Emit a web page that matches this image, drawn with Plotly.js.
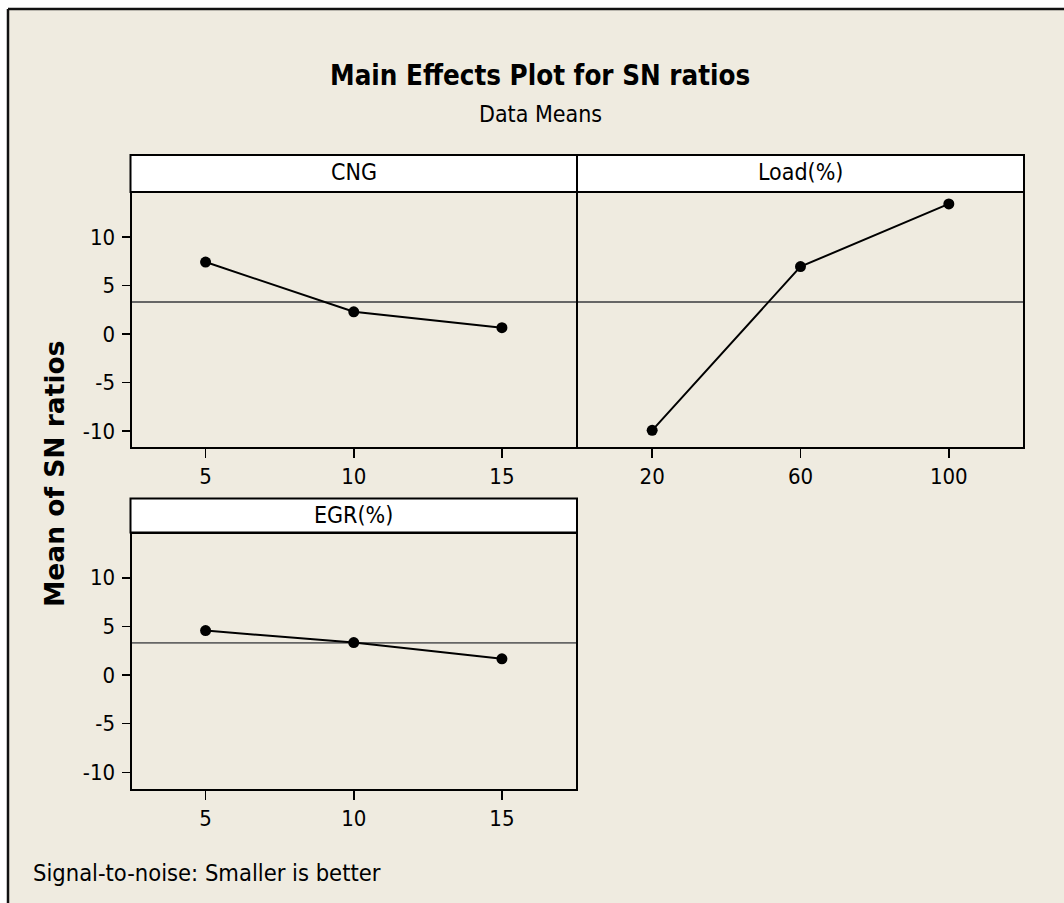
<!DOCTYPE html>
<html>
<head>
<meta charset="utf-8">
<script src="https://cdn.plot.ly/plotly-3.0.1.min.js"></script>
<style>
  html, body { margin: 0; padding: 0; background: #ffffff; }
  #chart { width: 1064px; height: 903px; }
</style>
</head>
<body>
<div id="chart"></div>
<script>
// ---- Data ----
const cngLevels  = [5, 10, 15];
const cngMeans   = [7.42, 2.29, 0.65];
const loadLevels = [20, 60, 100];
const loadMeans  = [-9.95, 6.95, 13.42];
const egrLevels  = [5, 10, 15];
const egrMeans   = [4.57, 3.34, 1.66];
const grandMean  = 3.3;
const panelTitles = ['CNG', 'Load(%)', 'EGR(%)'];
const yTickVals  = [-10, -5, 0, 5, 10];
const yTickText  = ['-10', '-5', '0', '5', '10'];
const cngTicks   = [5, 10, 15];
const loadTicks  = [20, 60, 100];
const egrTicks   = [5, 10, 15];
const chartTitle = 'Main Effects Plot for SN ratios';
const chartSubtitle = 'Data Means';
const yTitle = 'Mean of SN ratios';
const footer = 'Signal-to-noise: Smaller is better';

// ---- Layout helpers (pixel -> paper) ----
const W = 1064, H = 903;
const px = v => v / W;
const py = v => 1 - v / H;

const L1 = 131.5, R1a = 576, R1b = 578, R2 = 1023;
const topHeadTop = 155, topPlotTop = 193, topPlotBot = 447;
const botHeadTop = 498.5, botPlotTop = 533.5, botPlotBot = 788.5;

const FONT = '"DejaVu Sans Condensed", "DejaVu Sans", sans-serif';
const BG = '#efebe0';
const yRange = [-11.67, 14.55];

const markerStyle = { color: '#000000', size: 11 };
const lineStyle = { color: '#000000', width: 2 };

const traces = [
  { x: cngLevels, y: cngMeans, xaxis: 'x', yaxis: 'y', mode: 'lines+markers',
    marker: markerStyle, line: lineStyle, hoverinfo: 'skip' },
  { x: loadLevels, y: loadMeans, xaxis: 'x2', yaxis: 'y2', mode: 'lines+markers',
    marker: markerStyle, line: lineStyle, hoverinfo: 'skip' },
  { x: egrLevels, y: egrMeans, xaxis: 'x3', yaxis: 'y3', mode: 'lines+markers',
    marker: markerStyle, line: lineStyle, hoverinfo: 'skip' }
];

const tickFont = { family: FONT, size: 22, color: '#000000' };
const baseX = {
  showgrid: false, zeroline: false, showline: true, mirror: true,
  linecolor: '#000000', linewidth: 2,
  ticks: 'outside', ticklen: 9, tickwidth: 1.5, tickcolor: '#000000',
  tickfont: tickFont, fixedrange: true
};
const baseY = Object.assign({}, baseX, { range: yRange, tickvals: yTickVals, ticktext: yTickText, ticklen: 8, ticklabelstandoff: 2 });

const layout = {
  width: W, height: H,
  margin: { l: 0, r: 0, t: 0, b: 0, pad: 0 },
  paper_bgcolor: '#ffffff',
  plot_bgcolor: '#ffffff',
  showlegend: false,
  xaxis: Object.assign({}, baseX, { domain: [px(L1), px(R1a)], anchor: 'y', range: [2.5, 17.5], tickvals: cngTicks }),
  yaxis: Object.assign({}, baseY, { domain: [py(topPlotBot), py(topPlotTop)], anchor: 'x' }),
  xaxis2: Object.assign({}, baseX, { domain: [px(R1b), px(R2)], anchor: 'y2', range: [0, 120], tickvals: loadTicks }),
  yaxis2: Object.assign({}, baseY, { domain: [py(topPlotBot), py(topPlotTop)], anchor: 'x2', ticks: '', showticklabels: false }),
  xaxis3: Object.assign({}, baseX, { domain: [px(L1), px(R1a)], anchor: 'y3', range: [2.5, 17.5], tickvals: egrTicks }),
  yaxis3: Object.assign({}, baseY, { domain: [py(botPlotBot), py(botPlotTop)], anchor: 'x3' }),
  shapes: [
    // beige frame background
    { type: 'rect', xref: 'paper', yref: 'paper', x0: px(8), x1: 1, y0: 0, y1: py(9),
      fillcolor: BG, line: { width: 0 }, layer: 'below' },
    { type: 'line', xref: 'paper', yref: 'paper', x0: px(8), x1: 1, y0: py(9), y1: py(9),
      line: { color: '#111111', width: 2.5 }, layer: 'below' },
    { type: 'line', xref: 'paper', yref: 'paper', x0: px(8), x1: px(8), y0: 0, y1: py(9),
      line: { color: '#111111', width: 2.5 }, layer: 'below' },
    // header boxes
    { type: 'rect', xref: 'paper', yref: 'paper', x0: px(L1 - 1), x1: px(R1a + 1), y0: py(topPlotTop - 1), y1: py(topHeadTop),
      fillcolor: '#ffffff', line: { color: '#000000', width: 2 }, layer: 'below' },
    { type: 'rect', xref: 'paper', yref: 'paper', x0: px(R1b - 1), x1: px(R2 + 1), y0: py(topPlotTop - 1), y1: py(topHeadTop),
      fillcolor: '#ffffff', line: { color: '#000000', width: 2 }, layer: 'below' },
    { type: 'rect', xref: 'paper', yref: 'paper', x0: px(L1 - 1), x1: px(R1a + 1), y0: py(botPlotTop - 1), y1: py(botHeadTop),
      fillcolor: '#ffffff', line: { color: '#000000', width: 2 }, layer: 'below' },
    // grand mean reference lines
    { type: 'line', xref: 'x domain', yref: 'y', x0: 0, x1: 1, y0: grandMean, y1: grandMean,
      line: { color: '#666666', width: 1.8 }, layer: 'below' },
    { type: 'line', xref: 'x2 domain', yref: 'y2', x0: 0, x1: 1, y0: grandMean, y1: grandMean,
      line: { color: '#666666', width: 1.8 }, layer: 'below' },
    { type: 'line', xref: 'x3 domain', yref: 'y3', x0: 0, x1: 1, y0: grandMean, y1: grandMean,
      line: { color: '#666666', width: 1.8 }, layer: 'below' }
  ],
  annotations: [
    { text: '<b>' + chartTitle + '</b>', xref: 'paper', yref: 'paper', x: px(540), y: py(74.5),
      xanchor: 'center', yanchor: 'middle', showarrow: false,
      font: { family: FONT, size: 27.5, color: '#000000' } },
    { text: chartSubtitle, xref: 'paper', yref: 'paper', x: px(540), y: py(113.5),
      xanchor: 'center', yanchor: 'middle', showarrow: false,
      font: { family: FONT, size: 23, color: '#000000' } },
    { text: panelTitles[0], xref: 'paper', yref: 'paper', x: px((L1 + R1a) / 2), y: py(172.5),
      xanchor: 'center', yanchor: 'middle', showarrow: false,
      font: { family: FONT, size: 23, color: '#000000' } },
    { text: panelTitles[1], xref: 'paper', yref: 'paper', x: px((R1b + R2) / 2), y: py(172.5),
      xanchor: 'center', yanchor: 'middle', showarrow: false,
      font: { family: FONT, size: 23, color: '#000000' } },
    { text: panelTitles[2], xref: 'paper', yref: 'paper', x: px((L1 + R1a) / 2), y: py(514.5),
      xanchor: 'center', yanchor: 'middle', showarrow: false,
      font: { family: FONT, size: 23, color: '#000000' } },
    { text: '<b>' + yTitle + '</b>', xref: 'paper', yref: 'paper', x: px(54), y: py(474),
      xanchor: 'center', yanchor: 'middle', textangle: -90, showarrow: false,
      font: { family: '"DejaVu Sans", Verdana, sans-serif', size: 26.5, color: '#000000' } },
    { text: footer, xref: 'paper', yref: 'paper', x: px(31), y: py(873),
      xanchor: 'left', yanchor: 'middle', showarrow: false,
      font: { family: FONT, size: 23.5, color: '#000000' } }
  ]
};

Plotly.newPlot('chart', traces, layout, { displayModeBar: false, staticPlot: true });
</script>
</body>
</html>
